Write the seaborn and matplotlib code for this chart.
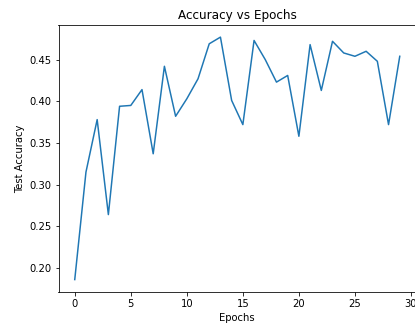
import matplotlib
matplotlib.use("Agg")
import matplotlib.pyplot as plt
import seaborn as sns
import pandas as pd

epochs = list(range(30))
accuracy = [0.186, 0.315, 0.378, 0.264, 0.394, 0.395, 0.414, 0.337, 0.442, 0.382,
            0.403, 0.427, 0.469, 0.477, 0.401, 0.372, 0.473, 0.450, 0.423, 0.431,
            0.358, 0.468, 0.413, 0.472, 0.458, 0.454, 0.460, 0.448, 0.372, 0.454]

df = pd.DataFrame({"Epochs": epochs, "Test Accuracy": accuracy})

DPI = 72
fig, ax = plt.subplots(figsize=(415 / DPI, 326 / DPI), dpi=DPI)
sns.lineplot(data=df, x="Epochs", y="Test Accuracy", ax=ax, color="#1f77b4", linewidth=1.5)
ax.set_title("Accuracy vs Epochs")
ax.set_xlabel("Epochs")
ax.set_ylabel("Test Accuracy")
fig.subplots_adjust(left=58.5 / 415, right=416 / 415, top=1 - 25 / 326, bottom=1 - 291.7 / 326)
fig.savefig("out.png", dpi=DPI)
